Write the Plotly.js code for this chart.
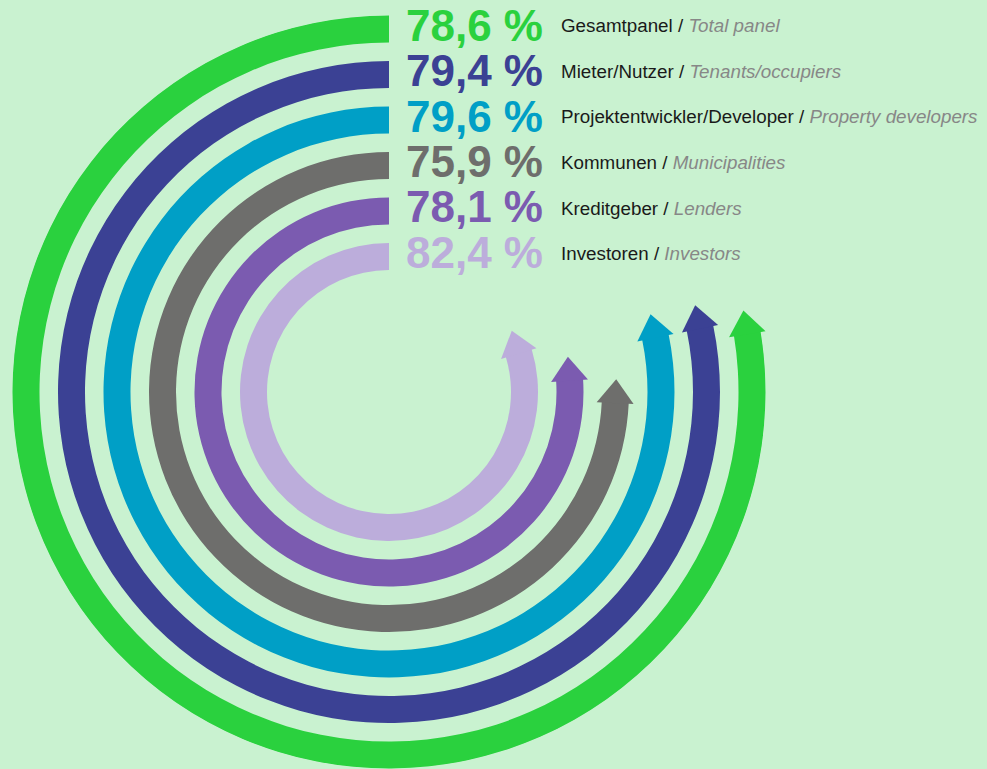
<!DOCTYPE html>
<html><head><meta charset="utf-8">
<script src="https://cdn.plot.ly/plotly-3.0.1.min.js"></script>
<style>html,body{margin:0;padding:0;background:#c9f2d0;}</style>
</head><body><div id="chart" style="width:987px;height:769px;"></div>
<script>
// ---- data ----
const groupsDe = ["Gesamtpanel", "Mieter/Nutzer", "Projektentwickler/Developer", "Kommunen", "Kreditgeber", "Investoren"];
const groupsEn = ["Total panel", "Tenants/occupiers", "Property developers", "Municipalities", "Lenders", "Investors"];
const values = [78.6, 79.4, 79.6, 75.9, 78.1, 82.4];
const valueLabels = ["78,6 %", "79,4 %", "79,6 %", "75,9 %", "78,1 %", "82,4 %"];
const colors = ["#2ad13e", "#3b4194", "#009fc6", "#6e6e6c", "#7b5bb0", "#bcaddb"];

// ---- style constants ----
const W = 987, H = 769;
const cx = 389, cy = 392;          // ring centre in px
const R0 = 363, STEP = 45.5, THICK = 27;
const HEAD = 32;                   // triangle marker size
const headR = HEAD / 2;
const deg = 180 / Math.PI;
const RMAX = 377;

const radii = values.map((v, i) => R0 - STEP * i);
const tipDeg = values.map(v => v * 3.6);
const barEnd = tipDeg.map((t, i) => t - (1.5 * headR - 1) / radii[i] * deg);
const headPos = tipDeg.map((t, i) => t - headR / radii[i] * deg);

const bars = {
  type: 'barpolar',
  r: radii.map(() => THICK),
  base: radii.map(r => r - THICK / 2),
  theta: barEnd.map(e => e / 2),
  width: barEnd,
  marker: {color: colors, line: {width: 0}},
  hoverinfo: 'skip',
  showlegend: false
};
const heads = {
  type: 'scatterpolar',
  mode: 'markers',
  r: radii,
  theta: headPos,
  marker: {symbol: 'triangle-up', size: HEAD, color: colors,
           angle: barEnd.map(e => -90 - e), line: {width: 0}},
  hoverinfo: 'skip',
  showlegend: false
};

const annotations = [];
values.forEach((v, i) => {
  const yPx = cy - radii[i] - 4;
  annotations.push({
    xref: 'paper', yref: 'paper', x: 545 / W, y: 1 - yPx / H,
    xanchor: 'right', yanchor: 'middle', showarrow: false,
    text: '<b>' + valueLabels[i] + '</b>',
    font: {family: 'Liberation Sans, Arial, sans-serif', size: 44, color: colors[i]}
  });
  annotations.push({
    xref: 'paper', yref: 'paper', x: 559 / W, y: 1 - (yPx + 1) / H,
    xanchor: 'left', yanchor: 'middle', showarrow: false,
    text: groupsDe[i] + ' / <span style="color:#878787"><i>' + groupsEn[i] + '</i></span>',
    font: {family: 'Liberation Sans, Arial, sans-serif', size: 18.8, color: '#1a1a1a'}
  });
});

const layout = {
  width: W, height: H,
  margin: {l: 0, r: 0, t: 0, b: 0, pad: 0},
  paper_bgcolor: '#c9f2d0',
  plot_bgcolor: '#c9f2d0',
  showlegend: false,
  polar: {
    domain: {x: [(cx - RMAX) / W, (cx + RMAX) / W], y: [(H - cy - RMAX) / H, (H - cy + RMAX) / H]},
    bgcolor: 'rgba(0,0,0,0)',
    radialaxis: {range: [0, RMAX], visible: false, showgrid: false},
    angularaxis: {rotation: 90, direction: 'counterclockwise', visible: false, showgrid: false},
    bargap: 0
  },
  annotations: annotations
};

Plotly.newPlot('chart', [bars, heads], layout, {displayModeBar: false, staticPlot: true});
</script></body></html>
